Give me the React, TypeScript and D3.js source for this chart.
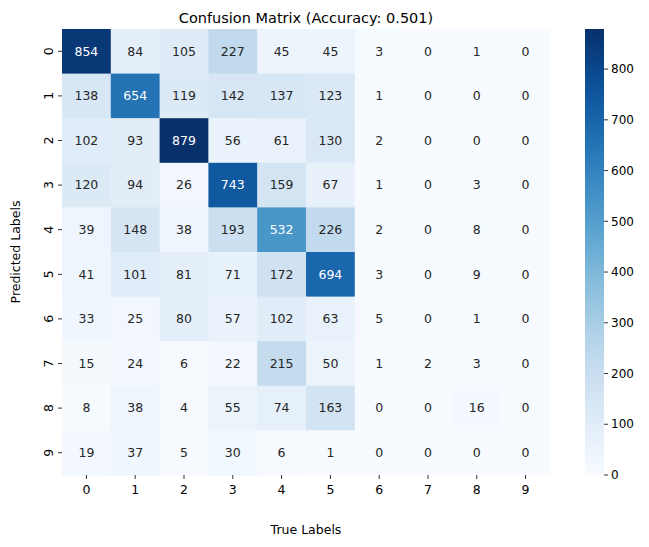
import React from 'react'
import * as d3 from 'd3'

const labels = ['0', '1', '2', '3', '4', '5', '6', '7', '8', '9']
const matrix = [
  [854, 84, 105, 227, 45, 45, 3, 0, 1, 0],
  [138, 654, 119, 142, 137, 123, 1, 0, 0, 0],
  [102, 93, 879, 56, 61, 130, 2, 0, 0, 0],
  [120, 94, 26, 743, 159, 67, 1, 0, 3, 0],
  [39, 148, 38, 193, 532, 226, 2, 0, 8, 0],
  [41, 101, 81, 71, 172, 694, 3, 0, 9, 0],
  [33, 25, 80, 57, 102, 63, 5, 0, 1, 0],
  [15, 24, 6, 22, 215, 50, 1, 2, 3, 0],
  [8, 38, 4, 55, 74, 163, 0, 0, 16, 0],
  [19, 37, 5, 30, 6, 1, 0, 0, 0, 0],
]
const cbTicks = [0, 100, 200, 300, 400, 500, 600, 700, 800]

const W = 649, H = 547
const L = 62, R = 550, T = 29, B = 475
const font = 'DejaVu Sans, sans-serif'

export default function App() {
  const max = d3.max(matrix.flat()) as number
  const x = d3.scaleBand<string>().domain(labels).range([L, R])
  const y = d3.scaleBand<string>().domain(labels).range([T, B])
  const color = d3.scaleSequential(d3.interpolateBlues).domain([0, max])
  const cbX = 585, cbW = 19
  const cy = d3.scaleLinear().domain([0, max]).range([B, T])
  const stops = d3.range(0, 1.0001, 0.05)

  return (
    <div style={{ margin: -8 }}>
      <svg width={W} height={H} style={{ display: 'block', background: '#fff' }} fontFamily={font}>
        <defs>
          <linearGradient id="cb" x1="0" y1="1" x2="0" y2="0">
            {stops.map(s => <stop key={s} offset={s} stopColor={d3.interpolateBlues(s)} />)}
          </linearGradient>
        </defs>
        <text x={(L + R) / 2} y={23} textAnchor="middle" fontSize={14.5}>Confusion Matrix (Accuracy: 0.501)</text>
        {matrix.map((row, i) => row.map((v, j) => (
          <g key={`${i}-${j}`}>
            <rect x={x(labels[j])} y={y(labels[i])} width={x.bandwidth() + 0.5} height={y.bandwidth() + 0.5} fill={color(v)} />
            <text x={(x(labels[j]) as number) + x.bandwidth() / 2} y={(y(labels[i]) as number) + y.bandwidth() / 2}
              dy="0.35em" textAnchor="middle" fontSize={12.5} fill={v > 440 ? '#fff' : '#262626'}>{v}</text>
          </g>
        )))}
        {labels.map(l => (
          <g key={'x' + l}>
            <line x1={(x(l) as number) + x.bandwidth() / 2} x2={(x(l) as number) + x.bandwidth() / 2} y1={B} y2={B + 4} stroke="#333" />
            <text x={(x(l) as number) + x.bandwidth() / 2} y={B + 19} textAnchor="middle" fontSize={12.5}>{l}</text>
          </g>
        ))}
        {labels.map(l => {
          const yy = (y(l) as number) + y.bandwidth() / 2
          return (
            <g key={'y' + l}>
              <line x1={L - 4} x2={L} y1={yy} y2={yy} stroke="#333" />
              <text transform={`translate(${L - 9},${yy}) rotate(-90)`} textAnchor="middle" fontSize={12.5}>{l}</text>
            </g>
          )
        })}
        <text x={(L + R) / 2} y={534} textAnchor="middle" fontSize={12.5}>True Labels</text>
        <text transform={`translate(20,${(T + B) / 2}) rotate(-90)`} textAnchor="middle" fontSize={12.5}>Predicted Labels</text>
        <rect x={cbX} y={T} width={cbW} height={B - T} fill="url(#cb)" />
        {cbTicks.map(t => (
          <g key={'c' + t}>
            <line x1={cbX + cbW} x2={cbX + cbW + 4} y1={cy(t)} y2={cy(t)} stroke="#333" />
            <text x={cbX + cbW + 7} y={cy(t)} dy="0.35em" fontSize={12}>{t}</text>
          </g>
        ))}
      </svg>
    </div>
  )
}
